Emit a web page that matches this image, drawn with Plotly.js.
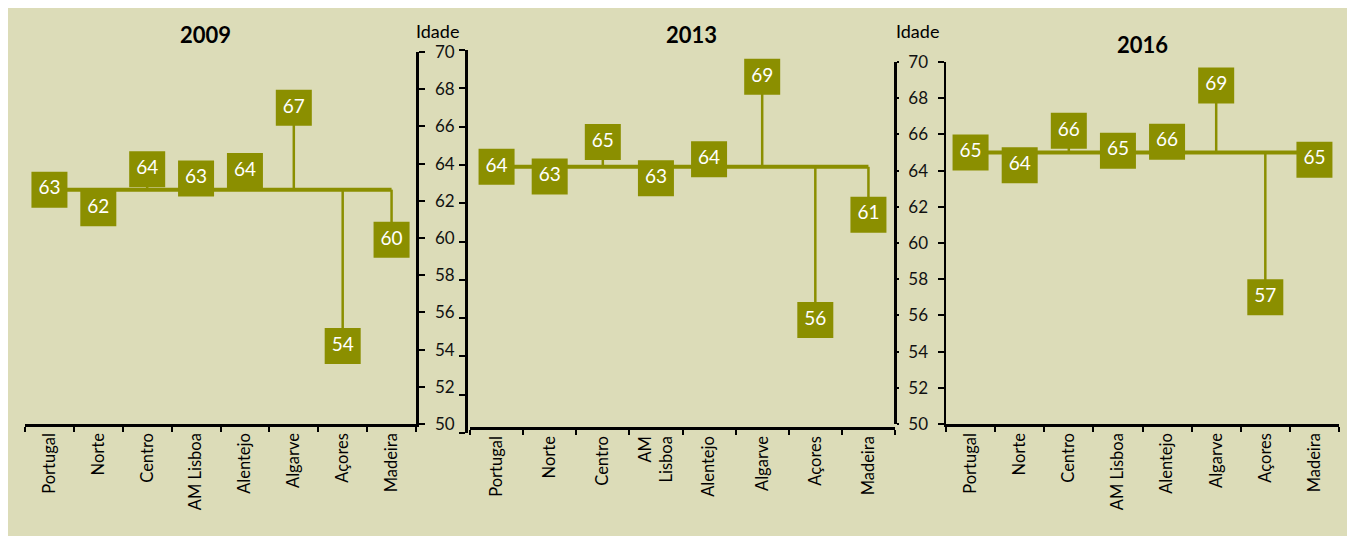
<!DOCTYPE html>
<html><head><meta charset="utf-8">
<script src="https://cdn.plot.ly/plotly-3.0.1.min.js"></script>
<style>html,body{margin:0;padding:0;background:#fff}#chart{width:1350px;height:536px}</style>
</head><body><div id="chart"></div>
<script>
// ---- data ----
const categories = ["Portugal","Norte","Centro","AM Lisboa","Alentejo","Algarve","Açores","Madeira"];
const tickLabels2009 = ["Portugal","Norte","Centro","AM Lisboa","Alentejo","Algarve","Açores","Madeira"];
const tickLabels2013 = ["Portugal","Norte","Centro","AM<br>Lisboa","Alentejo","Algarve","Açores","Madeira"];
const tickLabels2016 = ["Portugal","Norte","Centro","AM Lisboa","Alentejo","Algarve","Açores","Madeira"];
const years = ["2009","2013","2016"];
const values2009 = [62.6, 61.6, 63.7, 63.2, 63.6, 67.0, 54.2, 59.9];
const values2013 = [63.9, 63.4, 65.2, 63.3, 64.3, 68.6, 55.9, 61.4];
const values2016 = [65.0, 64.3, 66.2, 65.1, 65.6, 68.7, 57.0, 64.6];
const yTickVals = [50,52,54,56,58,60,62,64,66,68,70];
const yAxisTitle = "Idade";

// ---- style ----
const OLIVE = "#8b8f00";
const BG = "#dcdcb8";
const FONT = "Lato, 'Open Sans', sans-serif";
const W = 1350, H = 536;
const px = v => v / W;
const py = v => 1 - v / H;

function panelTraces(vals, xa, ya) {
  const ref = vals[0];
  const traces = [];
  traces.push({
    type: "scatter", mode: "lines", xaxis: xa, yaxis: ya,
    x: categories, y: categories.map(() => ref),
    line: {color: OLIVE, width: 4}, hoverinfo: "skip", showlegend: false
  });
  const dx = [], dy = [];
  categories.forEach((c, i) => { dx.push(c, c, null); dy.push(ref, vals[i], null); });
  traces.push({
    type: "scatter", mode: "lines", xaxis: xa, yaxis: ya,
    x: dx, y: dy, line: {color: OLIVE, width: 2.5}, hoverinfo: "skip", showlegend: false
  });
  traces.push({
    type: "scatter", mode: "markers+text", xaxis: xa, yaxis: ya,
    x: categories, y: vals,
    marker: {symbol: "square", size: 36, color: OLIVE, line: {width: 0}},
    texttemplate: "%{y:.0f}", textposition: "middle center",
    textfont: {family: FONT, size: 19, color: "#ffffff"},
    cliponaxis: false, showlegend: false
  });
  return traces;
}

const data = [
  ...panelTraces(values2009, "x", "y"),
  ...panelTraces(values2013, "x2", "y2"),
  ...panelTraces(values2016, "x3", "y3"),
];

function xAxis(domain, ticktext, extra) {
  return Object.assign({
    domain: domain, type: "category", range: [-0.5, 7.5],
    tickmode: "array", tickvals: categories, ticktext: ticktext,
    tickson: "boundaries", ticks: "outside", ticklen: 5, tickwidth: 2, tickcolor: "#000",
    showline: true, linecolor: "#000", linewidth: 2.5,
    showgrid: false, zeroline: false, tickangle: -90,
    tickfont: {family: FONT, size: 16.5, color: "#000"}, fixedrange: true
  }, extra || {});
}
function yAxis(domain, extra) {
  return Object.assign({
    domain: domain, range: [50, 70], tickmode: "array", tickvals: yTickVals,
    ticks: "outside", ticklen: 6, tickwidth: 2, tickcolor: "#000",
    showline: true, linecolor: "#000", linewidth: 2.5,
    showgrid: false, zeroline: false,
    tickfont: {family: FONT, size: 17, color: "#111"}, fixedrange: true
  }, extra || {});
}

function ann(text, x, y, size) {
  return {text: text, xref: "paper", yref: "paper", x: px(x), y: py(y),
          xanchor: "center", yanchor: "middle", showarrow: false,
          font: {family: FONT, size: size, color: "#000"}};
}

const layout = {
  width: W, height: H,
  margin: {l: 0, r: 0, t: 0, b: 0, pad: 0},
  paper_bgcolor: "#ffffff", plot_bgcolor: "rgba(0,0,0,0)",
  showlegend: false,
  font: {family: FONT, color: "#000"},
  shapes: [{
    type: "rect", xref: "paper", yref: "paper", layer: "below",
    x0: px(8), x1: px(1347), y0: 0, y1: py(8),
    fillcolor: BG, line: {width: 0}
  }],
  xaxis: xAxis([px(25), px(416)], tickLabels2009, {anchor: "y"}),
  yaxis: yAxis([py(424), py(52)], {anchor: "x", side: "right", ticklabelstandoff: 7}),
  xaxis2: xAxis([px(470), px(895)], tickLabels2013, {anchor: "free", position: py(428)}),
  yaxis2: yAxis([py(433), py(50)], {anchor: "free", position: px(466), side: "left", showticklabels: false}),
  xaxis3: xAxis([px(946), px(1339)], tickLabels2016, {anchor: "y3"}),
  yaxis3: yAxis([py(424), py(62)], {anchor: "x3", side: "left", ticklabelstandoff: 6}),
  yaxis4: yAxis([py(424), py(62)], {overlaying: "y3", anchor: "free", position: px(895), side: "right", ticklen: 2, showticklabels: false}),
  annotations: [
    ann("<b>" + years[0] + "</b>", 205, 34, 22),
    ann("<b>" + years[1] + "</b>", 691, 34, 22),
    ann("<b>" + years[2] + "</b>", 1142, 44, 22),
    ann(yAxisTitle, 437, 31, 18),
    ann(yAxisTitle, 917, 31, 18)
  ]
};

// yaxis4 needs a trace reference to render; add an invisible one
data.push({type: "scatter", mode: "markers", x: [categories[0]], y: [values2016[0]], xaxis: "x3", yaxis: "y4", marker: {opacity: 0}, hoverinfo: "skip", showlegend: false});

Plotly.newPlot("chart", data, layout, {staticPlot: true, displayModeBar: false});
</script>
</body></html>
